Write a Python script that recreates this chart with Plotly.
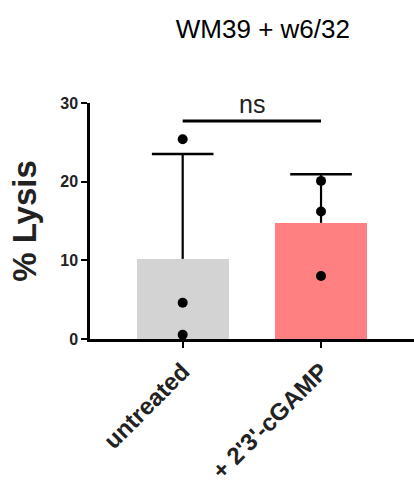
import numpy as np
import plotly.graph_objects as go

categories = ["untreated", "+ 2'3'-cGAMP"]
untreated_vals = [25.4, 4.6, 0.55]
cgamp_vals = [20.1, 16.2, 8.0]
bar_colors = ["#d3d3d3", "#ff8080"]
y_ticks = [0, 10, 20, 30]
title_text = "WM39 + w6/32"
sig_label = "ns"
sig_y = 27.7

groups = [untreated_vals, cgamp_vals]
means = [float(np.mean(g)) for g in groups]
sds = [float(np.std(g, ddof=1)) for g in groups]
tops = [m + s for m, s in zip(means, sds)]
xpos = list(range(len(categories)))
FONT = "Liberation Sans, Arial, Helvetica"

fig = go.Figure()
# error stems (drawn first, behind bars)
fig.add_trace(go.Scatter(
    x=xpos, y=means, mode="markers", marker=dict(size=0.1, color="rgba(0,0,0,0)"),
    error_y=dict(type="data", symmetric=False, array=sds, arrayminus=[0]*len(sds),
                 color="black", thickness=2.2, width=0),
    showlegend=False, hoverinfo="skip",
))
fig.add_trace(go.Bar(
    x=xpos, y=means, width=0.665,
    marker=dict(color=bar_colors, line=dict(width=0)),
    showlegend=False,
))
# error caps
fig.add_trace(go.Scatter(
    x=xpos, y=tops, mode="markers",
    marker=dict(symbol="line-ew", size=44, line=dict(color="black", width=2.6)),
    showlegend=False, cliponaxis=False,
))
for i, g in enumerate(groups):
    fig.add_trace(go.Scatter(
        x=[xpos[i]]*len(g), y=g, mode="markers",
        marker=dict(color="black", size=10),
        showlegend=False, cliponaxis=False,
    ))

fig.add_shape(type="line", xref="x", yref="y", x0=xpos[0], x1=xpos[1], y0=sig_y, y1=sig_y,
              line=dict(color="black", width=3))
fig.add_annotation(x=(xpos[0]+xpos[1])/2, y=sig_y, xref="x", yref="y", text=sig_label,
                   showarrow=False, yanchor="bottom", yshift=1,
                   font=dict(family=FONT, size=25, color="#222"))

fig.update_layout(
    width=414, height=483,
    margin=dict(l=90, r=0, t=103, b=144, autoexpand=False),
    plot_bgcolor="white", paper_bgcolor="white",
    title=dict(text=title_text, x=0.635, xanchor="center", y=0.94, yanchor="middle",
               font=dict(family=FONT, size=26, color="black")),
    bargap=0,
)
fig.update_xaxes(
    range=[-0.67, 1.672], tickvals=xpos, ticktext=categories, tickangle=-45,
    showline=True, linecolor="black", linewidth=2.5, automargin=False,
    ticks="outside", ticklen=6, tickwidth=2, tickcolor="black",
    tickfont=dict(family=FONT, size=24, color="#222", weight="bold"),
    showgrid=False, zeroline=False,
)
fig.update_yaxes(
    range=[0, 30], tickvals=y_ticks, automargin=False,
    showline=True, linecolor="black", linewidth=2.5,
    ticks="outside", ticklen=6, tickwidth=2, tickcolor="black",
    tickfont=dict(family=FONT, size=16, color="#222", weight="bold"),
    title=dict(text="% Lysis", standoff=14,
               font=dict(family=FONT, size=33, color="#222", weight="bold")),
    showgrid=False, zeroline=False,
)
fig.write_html("out.html", config={"displayModeBar": False},
               post_script="document.body.style.margin='0';")
